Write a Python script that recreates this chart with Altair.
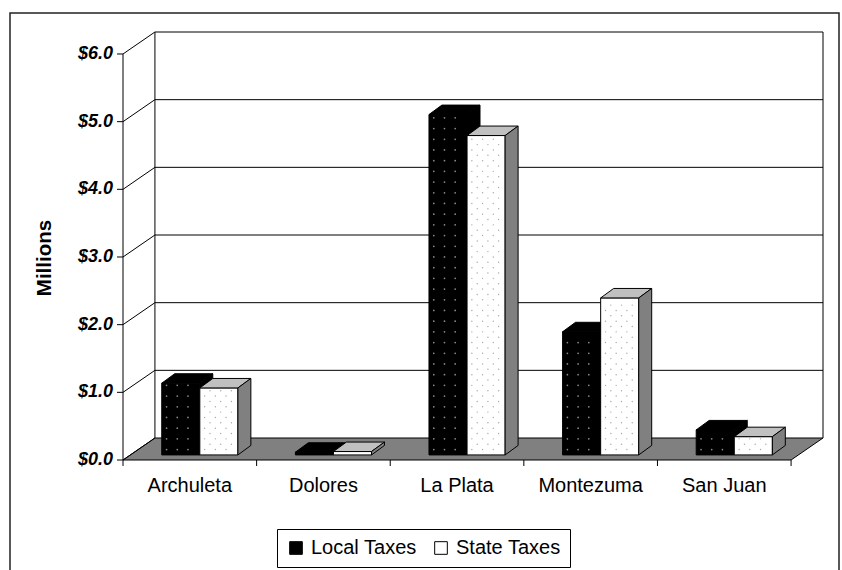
import altair as alt
import pandas as pd

# ---------------- data ----------------
categories = ["Archuleta", "Dolores", "La Plata", "Montezuma", "San Juan"]
local_taxes = [1.06, 0.04, 5.03, 1.82, 0.37]   # $ millions
state_taxes = [0.99, 0.05, 4.72, 2.32, 0.27]   # $ millions
series = ["Local Taxes", "State Taxes"]
y_ticks = [0, 1, 2, 3, 4, 5, 6]

# ---------------- 3-D geometry (axis units) ----------------
N = len(categories)
YMAX = y_ticks[-1]
WALL_DX = 0.239   # wall depth, category units
WALL_DY = 0.325   # wall depth, value units
BAR_DX = 0.097    # bar depth, category units
BAR_DY = 0.14     # bar depth, value units
BAR_BASE = 0.075  # bar base (bars stand mid-floor)
LOCAL_X = (0.29, 0.575)
STATE_X = (0.575, 0.86)
FONT = "Arial"
W, H = 700, 428
PX_X = W / (N + WALL_DX)        # pixels per category unit
PX_Y = H / (YMAX + WALL_DY)     # pixels per value unit
TICK = 6                        # tick length, px
DOT = 10.7                      # texture dot spacing, px

xs = alt.Scale(domain=[0, N + WALL_DX], nice=False, zero=False)
ys = alt.Scale(domain=[0, YMAX + WALL_DY], nice=False, zero=False)

# wall / grid segments + ticks
segs = []
for v in y_ticks:
    segs.append(dict(x=0, y=v, x2=WALL_DX, y2=v + WALL_DY))
    segs.append(dict(x=0, y=v, x2=-TICK / PX_X, y2=v))
for v in y_ticks[1:]:
    segs.append(dict(x=WALL_DX, y=v + WALL_DY, x2=N + WALL_DX, y2=v + WALL_DY))
for i in range(N + 1):
    segs.append(dict(x=i, y=0, x2=i, y2=-TICK / PX_Y))
segs.append(dict(x=0, y=0, x2=0, y2=YMAX))
segs.append(dict(x=WALL_DX, y=WALL_DY, x2=WALL_DX, y2=YMAX + WALL_DY))
segs.append(dict(x=N + WALL_DX, y=WALL_DY, x2=N + WALL_DX, y2=YMAX + WALL_DY))
seg_df = pd.DataFrame(segs)

# floor polygon
floor_pts = [(0, 0), (N, 0), (N + WALL_DX, WALL_DY), (WALL_DX, WALL_DY), (0, 0)]
floor_df = pd.DataFrame([dict(pid="floor", k=k, x=p[0], y=p[1]) for k, p in enumerate(floor_pts)])


def bar_polys(vals, xr, tag):
    top_rows, side_rows = [], []
    for i, h in enumerate(vals):
        x0, x1 = i + xr[0], i + xr[1]
        yb, yt = BAR_BASE, BAR_BASE + h
        top = [(x0, yt), (x1, yt), (x1 + BAR_DX, yt + BAR_DY), (x0 + BAR_DX, yt + BAR_DY), (x0, yt)]
        side = [(x1, yb), (x1 + BAR_DX, yb + BAR_DY), (x1 + BAR_DX, yt + BAR_DY), (x1, yt), (x1, yb)]
        for k, p in enumerate(top):
            top_rows.append(dict(pid=f"{tag}t{i}", k=k, x=p[0], y=p[1]))
        for k, p in enumerate(side):
            side_rows.append(dict(pid=f"{tag}s{i}", k=k, x=p[0], y=p[1]))
    return pd.DataFrame(top_rows), pd.DataFrame(side_rows)


lt_df, ls_df = bar_polys(local_taxes, LOCAL_X, "L")
st_df, ss_df = bar_polys(state_taxes, STATE_X, "S")

front_rows = []
for i, c in enumerate(categories):
    front_rows.append(dict(series=series[0], cat=c, x=i + LOCAL_X[0], x2=i + LOCAL_X[1],
                           y=BAR_BASE, y2=BAR_BASE + local_taxes[i]))
    front_rows.append(dict(series=series[1], cat=c, x=i + STATE_X[0], x2=i + STATE_X[1],
                           y=BAR_BASE, y2=BAR_BASE + state_taxes[i]))
front_df = pd.DataFrame(front_rows)


# dotted fill texture on bar front faces
def dots(vals, xr, stagger):
    rows = []
    sx, sy = DOT / PX_X, DOT / PX_Y
    for i, h in enumerate(vals):
        x0, x1 = i + xr[0], i + xr[1]
        yb, yt = BAR_BASE, BAR_BASE + h
        r = 0
        y = yb + sy * 0.5
        while y < yt - sy * 0.2:
            off = (sx * 0.5 if (stagger and r % 2) else 0.0)
            x = x0 + sx * 0.45 + off
            while x < x1 - sx * 0.2:
                rows.append(dict(x=x, y=y))
                x += sx
            y += sy * (0.5 if stagger else 1.0)
            r += 1
    return pd.DataFrame(rows)


local_dots = dots(local_taxes, LOCAL_X, False)
state_dots = dots(state_taxes, STATE_X, True)

cat_df = pd.DataFrame({"cat": categories, "xc": [i + 0.5 for i in range(N)], "y0": [0] * N})
ytick_df = pd.DataFrame({"v": y_ticks, "x0": [0] * len(y_ticks)})

# ---------------- layers ----------------
frame = alt.Chart(pd.DataFrame({"a": [0]})).mark_rect(
    fill="transparent", stroke="#222222", strokeWidth=1.5
).encode(x=alt.value(-113), x2=alt.value(716), y=alt.value(-19), y2=alt.value(600))

rules = alt.Chart(seg_df).mark_rule(color="black", strokeWidth=1).encode(
    x=alt.X("x:Q", scale=xs, axis=None),
    y=alt.Y("y:Q", scale=ys, axis=None),
    x2="x2:Q", y2="y2:Q",
)

cat_labels = alt.Chart(cat_df).mark_text(
    font=FONT, fontSize=20, color="black", baseline="middle", align="center", dy=26
).encode(
    x=alt.X("xc:Q", scale=xs, axis=None),
    y=alt.Y("y0:Q", scale=ys, axis=None),
    text="cat:N",
)

y_labels = alt.Chart(ytick_df).transform_calculate(
    lab="'$' + format(datum.v, '.1f')"
).mark_text(
    font=FONT, fontSize=18, fontWeight="bold", fontStyle="italic", color="black",
    baseline="middle", align="right", dx=-10
).encode(
    x=alt.X("x0:Q", scale=xs, axis=None),
    y=alt.Y("v:Q", scale=ys, axis=None),
    text="lab:N",
)

y_title = alt.Chart(pd.DataFrame({"t": ["Millions"]})).mark_text(
    font=FONT, fontSize=20.5, fontWeight="bold", color="black", angle=270,
    baseline="middle", align="center"
).encode(x=alt.value(-78), y=alt.value(226), text="t:N")


def poly(df, fill):
    return alt.Chart(df).mark_line(fill=fill, stroke="black", strokeWidth=1, strokeJoin="miter").encode(
        x=alt.X("x:Q", scale=xs, axis=None),
        y=alt.Y("y:Q", scale=ys, axis=None),
        order="k:Q",
        detail="pid:N",
    )


def dot_layer(df, color, size):
    return alt.Chart(df).mark_circle(color=color, size=size, opacity=1).encode(
        x=alt.X("x:Q", scale=xs, axis=None),
        y=alt.Y("y:Q", scale=ys, axis=None),
    )


floor = poly(floor_df, "#808080")
local_side = poly(ls_df, "#000000")
local_top = poly(lt_df, "#000000")

fronts = alt.Chart(front_df).mark_rect(stroke="black", strokeWidth=1).encode(
    x=alt.X("x:Q", scale=xs, axis=None),
    x2="x2:Q",
    y=alt.Y("y:Q", scale=ys, axis=None),
    y2="y2:Q",
    fill=alt.Fill("series:N", scale=alt.Scale(domain=series, range=["#000000", "#FFFFFF"]),
                  legend=alt.Legend(orient="none", legendX=154, legendY=497, direction="horizontal",
                                    title=None, strokeColor="black", padding=9, symbolType="square",
                                    symbolSize=160, symbolStrokeColor="black", symbolStrokeWidth=1,
                                    labelFont=FONT, labelFontSize=20, labelColor="black",
                                    columnPadding=14, labelOffset=5)),
)

state_top = poly(st_df, "#C0C0C0")
state_side = poly(ss_df, "#808080")

chart = alt.layer(
    frame, floor, rules, cat_labels, y_labels, y_title,
    local_side, local_top, fronts,
    dot_layer(local_dots, "#8a8a8a", 3),
    dot_layer(state_dots, "#a8a8a8", 2),
    state_top, state_side,
).properties(
    width=W, height=H,
    padding={"left": 123, "top": 32, "right": 19, "bottom": 110},
    autosize="none",
    background="white",
).configure_view(stroke=None)

chart.save("out.html", embed_options={"renderer": "svg", "actions": False})
